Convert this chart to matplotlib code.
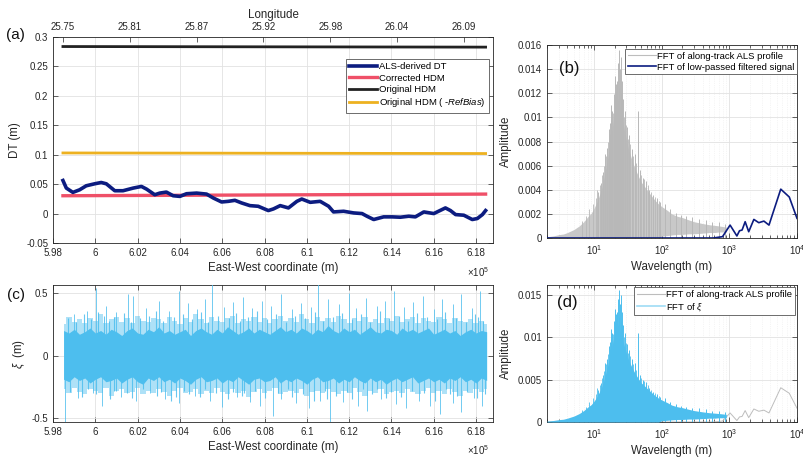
import numpy as np
import matplotlib
matplotlib.use('Agg')
import matplotlib.pyplot as plt
from matplotlib.ticker import FuncFormatter, LogLocator, NullFormatter
from matplotlib.lines import Line2D

plt.rcParams['font.family'] = ['Liberation Sans', 'DejaVu Sans']
plt.rcParams['mathtext.fontset'] = 'custom'
plt.rcParams['mathtext.rm'] = 'Liberation Sans'
plt.rcParams['mathtext.it'] = 'Liberation Sans:italic'
plt.rcParams['mathtext.bf'] = 'Liberation Sans:bold'

# ---------------- data ----------------
# (a) ALS-derived DT along track (East-West coordinate in m)
dt_x = [598470, 598630, 598940, 599260, 599570, 599970, 600280, 600520, 600920, 601310,
        601790, 602180, 602420, 602810, 603050, 603360, 603680, 604000, 604310, 604790,
        605260, 605580, 605970, 606290, 606600, 606920, 607310, 607700, 608180, 608420,
        608740, 609130, 609530, 609760, 610160, 610630, 611030, 611260, 611740, 612210,
        612610, 612840, 613160, 613630, 614030, 614420, 614820, 615130, 615530, 616000,
        616550, 616790, 617030, 617420, 617820, 618060, 618300, 618450]
dt_y = [0.0562, 0.0433, 0.0360, 0.0404, 0.0472, 0.0506, 0.0528, 0.0506, 0.0388, 0.0388,
        0.0433, 0.0461, 0.0416, 0.0320, 0.0348, 0.0365, 0.0303, 0.0292, 0.0337, 0.0348,
        0.0331, 0.0264, 0.0197, 0.0208, 0.0225, 0.0180, 0.0135, 0.0124, 0.0051, 0.0079,
        0.0135, 0.0096, 0.0208, 0.0247, 0.0191, 0.0208, 0.0124, 0.0028, 0.0039, 0.0011,
        0.0000, -0.0045, -0.0101, -0.0056, -0.0056, -0.0062, -0.0045, -0.0056, 0.0028, 0.0000,
        0.0096, 0.0051, -0.0017, -0.0028, -0.0101, -0.0084, -0.0017, 0.0051]
hdm_x = [598470, 618450]
hdm_corrected = [0.0303, 0.0331]
hdm_original = [0.2838, 0.2828]
hdm_refbias = [0.1030, 0.1020]

lon_pos = [598470, 601630, 604790, 607950, 611110, 614270, 617430]
lon_labels = ['25.75', '25.81', '25.87', '25.92', '25.98', '26.04', '26.09']

# (c) xi residual: envelope of the dense band and isolated spikes
xi_x = [598500, 598750, 599000, 599250, 599500, 599750, 600000, 600250, 600500, 600750,
        601000, 601250, 601500, 601750, 602000, 602250, 602500, 602750, 603000, 603250,
        603500, 603750, 604000, 604250, 604500, 604750, 605000, 605250, 605500, 605750,
        606000, 606250, 606500, 606750, 607000, 607250, 607500, 607750, 608000, 608250,
        608500, 608750, 609000, 609250, 609500, 609750, 610000, 610250, 610500, 610750,
        611000, 611250, 611500, 611750, 612000, 612250, 612500, 612750, 613000, 613250,
        613500, 613750, 614000, 614250, 614500, 614750, 615000, 615250, 615500, 615750,
        616000, 616250, 616500, 616750, 617000, 617250, 617500, 617750, 618000, 618250,
        618500]
xi_up_core = [0.20, 0.18, 0.21, 0.17, 0.19, 0.22, 0.18, 0.20, 0.17, 0.21,
              0.19, 0.16, 0.20, 0.22, 0.18, 0.17, 0.21, 0.19, 0.23, 0.18,
              0.20, 0.17, 0.19, 0.21, 0.16, 0.20, 0.22, 0.19, 0.17, 0.21,
              0.18, 0.23, 0.20, 0.17, 0.19, 0.22, 0.18, 0.21, 0.19, 0.17,
              0.20, 0.23, 0.19, 0.21, 0.18, 0.22, 0.20, 0.17, 0.21, 0.19,
              0.24, 0.20, 0.18, 0.22, 0.19, 0.21, 0.17, 0.20, 0.23, 0.19,
              0.18, 0.21, 0.20, 0.17, 0.22, 0.19, 0.21, 0.18, 0.20, 0.22,
              0.17, 0.19, 0.21, 0.18, 0.20, 0.16, 0.19, 0.21, 0.18, 0.20, 0.19]
xi_lo_core = [-0.19, -0.21, -0.17, -0.20, -0.18, -0.22, -0.19, -0.17, -0.21, -0.20,
              -0.18, -0.22, -0.19, -0.17, -0.21, -0.23, -0.18, -0.20, -0.17, -0.21,
              -0.19, -0.22, -0.18, -0.20, -0.23, -0.19, -0.17, -0.21, -0.20, -0.18,
              -0.22, -0.19, -0.21, -0.17, -0.20, -0.23, -0.19, -0.18, -0.21, -0.20,
              -0.17, -0.22, -0.19, -0.21, -0.18, -0.20, -0.23, -0.19, -0.17, -0.21,
              -0.20, -0.18, -0.22, -0.19, -0.21, -0.17, -0.20, -0.22, -0.18, -0.21,
              -0.19, -0.23, -0.20, -0.18, -0.21, -0.19, -0.17, -0.22, -0.20, -0.18,
              -0.21, -0.19, -0.22, -0.18, -0.20, -0.17, -0.21, -0.19, -0.22, -0.18, -0.20]
xi_up_fringe = [0.25, 0.31, 0.27, 0.29, 0.26, 0.30, 0.28, 0.33, 0.26, 0.29,
                0.31, 0.27, 0.30, 0.26, 0.32, 0.28, 0.27, 0.30, 0.29, 0.26,
                0.31, 0.28, 0.25, 0.30, 0.27, 0.33, 0.29, 0.26, 0.31, 0.28,
                0.27, 0.30, 0.32, 0.26, 0.29, 0.28, 0.31, 0.27, 0.30, 0.26,
                0.29, 0.32, 0.28, 0.30, 0.27, 0.33, 0.29, 0.26, 0.31, 0.28,
                0.30, 0.27, 0.32, 0.29, 0.26, 0.30, 0.28, 0.31, 0.27, 0.29,
                0.26, 0.30, 0.28, 0.32, 0.27, 0.29, 0.31, 0.26, 0.30, 0.28,
                0.27, 0.31, 0.29, 0.26, 0.30, 0.28, 0.27, 0.29, 0.26, 0.28, 0.25]
xi_lo_fringe = [-0.27, -0.30, -0.26, -0.29, -0.31, -0.27, -0.28, -0.30, -0.26, -0.32,
                -0.28, -0.27, -0.30, -0.29, -0.26, -0.31, -0.28, -0.30, -0.27, -0.29,
                -0.32, -0.28, -0.26, -0.30, -0.29, -0.27, -0.31, -0.28, -0.30, -0.26,
                -0.29, -0.31, -0.27, -0.30, -0.28, -0.33, -0.29, -0.27, -0.30, -0.28,
                -0.26, -0.31, -0.29, -0.28, -0.30, -0.27, -0.32, -0.29, -0.28, -0.30,
                -0.27, -0.29, -0.31, -0.28, -0.30, -0.26, -0.29, -0.32, -0.28, -0.30,
                -0.27, -0.31, -0.29, -0.28, -0.30, -0.27, -0.29, -0.31, -0.28, -0.26,
                -0.30, -0.28, -0.31, -0.27, -0.29, -0.32, -0.28, -0.30, -0.27, -0.29, -0.27]
xi_spk_up_x = [599000, 599600, 600050, 600500, 601000, 601550, 601800, 602400, 603000, 603500,
               603950, 604400, 604800, 605200, 605500, 606100, 606500, 607000, 607400, 607900,
               608300, 608800, 609300, 609700, 610200, 610550, 611000, 611500, 612000, 612300,
               612800, 613300, 613700, 614100, 614600, 615000, 615500, 616000, 616400, 616900,
               617300, 617800, 618200]
xi_spk_up_y = [0.33, 0.36, 0.54, 0.40, 0.35, 0.49, 0.48, 0.38, 0.44, 0.36,
               0.52, 0.42, 0.37, 0.45, 0.58, 0.39, 0.43, 0.47, 0.38, 0.44,
               0.40, 0.49, 0.37, 0.42, 0.39, 0.57, 0.45, 0.41, 0.50, 0.38,
               0.46, 0.40, 0.44, 0.52, 0.39, 0.43, 0.48, 0.37, 0.45, 0.41,
               0.49, 0.38, 0.52]
xi_spk_dn_x = [598550, 599200, 599900, 600300, 601200, 601900, 602600, 603300, 603950, 604700,
               605400, 606000, 606700, 607300, 607800, 608400, 608800, 609500, 610100, 610600,
               611100, 611700, 612400, 612850, 613500, 614200, 614700, 615300, 615800, 616300,
               616900, 617300, 617900, 618300]
xi_spk_dn_y = [-0.53, -0.34, -0.30, -0.40, -0.33, -0.36, -0.30, -0.35, -0.38, -0.32,
               -0.36, -0.41, -0.33, -0.37, -0.40, -0.48, -0.35, -0.38, -0.42, -0.36,
               -0.53, -0.37, -0.40, -0.44, -0.35, -0.39, -0.42, -0.36, -0.40, -0.47,
               -0.38, -0.45, -0.34, -0.40]
xi_mid_up_x = [598700, 599100, 599450, 599800, 600150, 600650, 600900, 601350, 601700, 602100,
               602550, 602850, 603200, 603700, 604150, 604550, 605000, 605350, 605800, 606300,
               606650, 606850, 607200, 607650, 608100, 608550, 609000, 609450, 609900, 610400,
               610750, 611250, 611650, 612150, 612550, 613000, 613450, 613900, 614350, 614800,
               615200, 615700, 616150, 616550, 617050, 617500, 617950, 618100, 618350, 600400]
xi_mid_up_y = [0.30, 0.27, 0.33, 0.29, 0.35, 0.28, 0.31, 0.34, 0.27, 0.30,
               0.32, 0.36, 0.28, 0.31, 0.33, 0.29, 0.35, 0.27, 0.32, 0.30,
               0.34, 0.28, 0.31, 0.36, 0.29, 0.33, 0.27, 0.32, 0.30, 0.35,
               0.28, 0.31, 0.34, 0.29, 0.33, 0.27, 0.36, 0.30, 0.32, 0.28,
               0.34, 0.31, 0.29, 0.35, 0.30, 0.27, 0.33, 0.31, 0.28, 0.32]
xi_mid_dn_x = [598800, 599350, 599650, 600050, 600700, 601000, 601500, 601750, 602250, 602900,
               603100, 603600, 604200, 604450, 604950, 605200, 605700, 606250, 606500, 606950,
               607550, 608000, 608650, 609100, 609300, 609800, 610350, 610850, 611400, 611900,
               612150, 612650, 613100, 613750, 614000, 614450, 614950, 615550, 616050, 616600,
               617100, 617550, 618050, 618400, 600900, 603800, 607050, 610950, 613300, 616750]
xi_mid_dn_y = [-0.29, -0.33, -0.27, -0.31, -0.35, -0.28, -0.30, -0.34, -0.27, -0.32,
               -0.29, -0.36, -0.28, -0.31, -0.33, -0.27, -0.30, -0.35, -0.29, -0.32,
               -0.28, -0.34, -0.30, -0.27, -0.33, -0.31, -0.36, -0.28, -0.32, -0.29,
               -0.35, -0.27, -0.31, -0.34, -0.29, -0.33, -0.28, -0.30, -0.36, -0.27,
               -0.32, -0.29, -0.34, -0.31, -0.28, -0.33, -0.30, -0.35, -0.27, -0.31]

# (b)/(d) FFT amplitude spectra (wavelength in m, amplitude in m)
spec_wl = [2, 2.5, 3, 3.5, 4, 5, 6, 7, 8, 9,
           10, 11, 12, 13, 14, 15, 16, 17, 18, 19,
           20, 21, 22, 23, 24, 25, 26, 28, 30, 32,
           35, 38, 42, 46, 50, 55, 60, 70, 80, 90,
           100, 120, 140, 170, 200, 250, 300, 400, 500, 600,
           700, 800, 900]
spec_upper = [0.00010, 0.00018, 0.00028, 0.00033, 0.00045, 0.00070, 0.00100, 0.00135, 0.00175, 0.00205,
              0.00250, 0.00300, 0.00360, 0.00420, 0.00500, 0.00590, 0.00680, 0.00770, 0.00870, 0.00960,
              0.01040, 0.01110, 0.01160, 0.01130, 0.01080, 0.01030, 0.00980, 0.00890, 0.00810, 0.00740,
              0.00670, 0.00610, 0.00550, 0.00500, 0.00460, 0.00430, 0.00400, 0.00350, 0.00310, 0.00280,
              0.00260, 0.00230, 0.00200, 0.00180, 0.00170, 0.00150, 0.00135, 0.00120, 0.00110, 0.00105,
              0.00100, 0.00095, 0.00090]
spec_lower = [0, 0, 0, 0, 0, 0, 0, 0, 0, 0,
              0, 0, 0, 0, 0, 0, 0, 0, 0, 0,
              0, 0, 0, 0, 0, 0, 0, 0, 0, 0,
              0, 0, 0, 0, 0, 0, 0, 0, 0, 0,
              0.00015, 0.00020, 0.00025, 0.00030, 0.00030, 0.00035, 0.00035, 0.00040, 0.00045, 0.00045,
              0.00050, 0.00050, 0.00050]
spk_wl = [11.5, 12.5, 13.5, 14.5, 15.5, 16.3, 17.2, 17.8, 18.6, 19.5,
          20.2, 20.8, 21.5, 22.3, 23.0, 24.0, 25.0, 26.0, 27.0, 28.5,
          31, 33, 36, 40, 45, 48, 53, 58, 65, 75,
          85, 95, 110, 130, 160, 190, 230, 280, 350, 450,
          550, 700, 850]
spk_amp = [0.0038, 0.0046, 0.0055, 0.0070, 0.0075, 0.0090, 0.0095, 0.0110, 0.0105, 0.0119,
           0.0134, 0.0128, 0.0130, 0.0145, 0.0156, 0.0140, 0.0150, 0.0130, 0.0115, 0.0105,
           0.0092, 0.0085, 0.0074, 0.0070, 0.0105, 0.0056, 0.0050, 0.0047, 0.0040, 0.0036,
           0.0033, 0.0030, 0.0028, 0.0024, 0.0021, 0.0019, 0.0018, 0.0017, 0.0016, 0.0015,
           0.00135, 0.0013, 0.0012]
spk2_wl = [6.5, 7.5, 8.5, 9.5, 10.5, 11.0, 12.0, 13.0, 14.0, 15.0,
           16.0, 17.0, 18.0, 19.0, 20.0, 21.0, 22.0, 23.5, 24.5, 25.5,
           27.5, 29.5, 32, 34, 38, 42, 50, 55, 62, 70,
           80, 90]
spk2_amp = [0.0014, 0.0018, 0.0024, 0.0028, 0.0033, 0.0040, 0.0044, 0.0052, 0.0060, 0.0068,
            0.0080, 0.0086, 0.0098, 0.0104, 0.0118, 0.0122, 0.0128, 0.0124, 0.0120, 0.0116,
            0.0100, 0.0094, 0.0082, 0.0078, 0.0068, 0.0062, 0.0052, 0.0049, 0.0044, 0.0038,
            0.0034, 0.0031]
lp_wl = [2, 577, 790, 1023, 1290, 1410, 1540, 1710, 1930, 2300, 2720, 3240, 3850, 5750, 7680, 10000]
lp_amp = [0, 0, 0.00011, 0.00107, 0.00017, 0.00060, 0.00066, 0.00135, 0.00052, 0.00154,
          0.00127, 0.00140, 0.00107, 0.00405, 0.00340, 0.00163]

# ---------------- styles ----------------
C_NAVY = '#0c1c80'
C_RED = '#ef5068'
C_BLACK = '#222222'
C_ORANGE = '#edb120'
C_CYAN = '#4dbeee'
C_GRAY = '#c8c8c8'
C_GRAY_SPK = '#b8b8b8'
C_AX = '#262626'
GRID = '#e2e2e2'

W, H = 804, 458
fig = plt.figure(figsize=(W / 100, H / 100), dpi=100)


def ax_at(l, t, r, b):
    return fig.add_axes([l / W, 1 - b / H, (r - l) / W, (b - t) / H])


def style(ax):
    for s in ax.spines.values():
        s.set_color(C_AX)
        s.set_linewidth(0.6)
    ax.tick_params(which='both', direction='in', top=True, right=True,
                   colors=C_AX, labelsize=7, width=0.5)
    ax.tick_params(which='major', length=3.5)
    ax.tick_params(which='minor', length=2)
    ax.set_axisbelow(True)


gfmt = FuncFormatter(lambda v, p: f'{v:g}')
xfmt = FuncFormatter(lambda v, p: f'{v / 1e5:g}')
xticks_ew = [598000 + 2000 * k for k in range(11)]

# ---------------- panel (a) ----------------
axA = ax_at(53, 37, 493, 243)
style(axA)
axA.plot(dt_x, dt_y, color=C_NAVY, lw=2.6, solid_joinstyle='round', zorder=5, label='ALS-derived DT')
axA.plot(hdm_x, hdm_corrected, color=C_RED, lw=2.4, zorder=4, label='Corrected HDM')
axA.plot(hdm_x, hdm_original, color=C_BLACK, lw=2.0, zorder=4, label='Original HDM')
axA.plot(hdm_x, hdm_refbias, color=C_ORANGE, lw=2.0, zorder=4,
         label='Original HDM ( -$\\it{RefBias}$)')
axA.set_xlim(598000, 618800)
axA.set_ylim(-0.05, 0.3)
axA.set_xticks(xticks_ew)
axA.set_yticks([-0.05, 0, 0.05, 0.1, 0.15, 0.2, 0.25, 0.3])
axA.xaxis.set_major_formatter(xfmt)
axA.yaxis.set_major_formatter(gfmt)
axA.grid(True, color=GRID, lw=0.6)
axA.set_xlabel('East-West coordinate (m)', fontsize=8.3, color=C_AX, labelpad=3)
axA.set_ylabel('DT (m)', fontsize=8.3, color=C_AX, labelpad=4)
legA = axA.legend(loc='upper right', bbox_to_anchor=(0.991, 0.893), fontsize=6.8,
                  handlelength=3.0, handletextpad=0.2, borderpad=0.35, labelspacing=0.25,
                  fancybox=False, edgecolor='#555555', framealpha=1, borderaxespad=0)
legA.get_frame().set_linewidth(0.6)

axT = axA.twiny()
axT.set_xlim(axA.get_xlim())
axT.set_xticks(lon_pos)
axT.set_xticklabels(lon_labels)
axT.tick_params(direction='in', length=3.5, width=0.5, colors=C_AX, labelsize=7, pad=3.5)
for s in axT.spines.values():
    s.set_visible(False)
axT.set_xlabel('Longitude', fontsize=8.3, color=C_AX, labelpad=3)

fig.text(478 / W, 1 - 272 / H, '$\\times$10$^5$', fontsize=7, color=C_AX, ha='center', va='center')
fig.text(15 / W, 1 - 35 / H, '(a)', fontsize=11, color='#111111', ha='center', va='center')

# ---------------- panel (c) ----------------
axC = ax_at(53, 285, 493, 422)
style(axC)
axC.fill_between(xi_x, xi_lo_fringe, xi_up_fringe, color=C_CYAN, alpha=0.45, lw=0, step='mid', zorder=2)
axC.vlines(xi_mid_up_x, 0, xi_mid_up_y, color=C_CYAN, lw=0.8, alpha=0.85, zorder=3)
axC.vlines(xi_mid_dn_x, xi_mid_dn_y, 0, color=C_CYAN, lw=0.8, alpha=0.85, zorder=3)
axC.fill_between(xi_x, xi_lo_core, xi_up_core, color=C_CYAN, lw=0, zorder=3)
axC.vlines(xi_spk_up_x, 0, xi_spk_up_y, color=C_CYAN, lw=0.7, alpha=0.8, zorder=3)
axC.vlines(xi_spk_dn_x, xi_spk_dn_y, 0, color=C_CYAN, lw=0.7, alpha=0.8, zorder=3)
axC.set_xlim(598000, 618800)
axC.set_ylim(-0.532, 0.564)
axC.set_xticks(xticks_ew)
axC.set_yticks([-0.5, 0, 0.5])
axC.xaxis.set_major_formatter(xfmt)
axC.yaxis.set_major_formatter(gfmt)
axC.grid(True, color=GRID, lw=0.6)
axC.set_xlabel('East-West coordinate (m)', fontsize=8.3, color=C_AX, labelpad=3)
axC.set_ylabel('$\\xi$  (m)', fontsize=8.3, color=C_AX, labelpad=3)
fig.text(478 / W, 1 - 450 / H, '$\\times$10$^5$', fontsize=7, color=C_AX, ha='center', va='center')
fig.text(16 / W, 1 - 295 / H, '(c)', fontsize=11, color='#111111', ha='center', va='center')


# ---------------- panels (b), (d) ----------------
def spec_axes(ax):
    style(ax)
    ax.set_xscale('log')
    ax.set_xlim(2, 1e4)
    ax.xaxis.set_major_locator(LogLocator(base=10, numticks=10))
    ax.xaxis.set_minor_locator(LogLocator(base=10, subs=np.arange(2, 10), numticks=20))
    ax.xaxis.set_minor_formatter(NullFormatter())
    ax.yaxis.set_major_formatter(gfmt)
    ax.grid(True, which='major', color=GRID, lw=0.6)
    ax.grid(True, which='minor', axis='x', color='#ececec', lw=0.5, ls=':')
    ax.set_xlabel('Wavelength (m)', fontsize=8.3, color=C_AX, labelpad=3)
    ax.set_ylabel('Amplitude', fontsize=8.3, color=C_AX, labelpad=4)


axB = ax_at(547, 45, 797, 238)
spec_axes(axB)
axB.fill_between(spec_wl, spec_lower, spec_upper, color=C_GRAY, lw=0, zorder=2)
axB.vlines(spk2_wl, 0, spk2_amp, color=C_GRAY_SPK, lw=0.6, zorder=2)
axB.vlines(spk_wl, 0, spk_amp, color=C_GRAY_SPK, lw=0.7, zorder=2)
axB.plot(lp_wl, lp_amp, color=C_NAVY, lw=1.2, zorder=4)
axB.set_ylim(0, 0.016)
axB.set_yticks([0, 0.002, 0.004, 0.006, 0.008, 0.01, 0.012, 0.014, 0.016])
hB = [Line2D([], [], color='#bdbdbd', lw=0.8), Line2D([], [], color=C_NAVY, lw=1.2)]
legB = axB.legend(hB, ['FFT of along-track ALS profile', 'FFT of low-passed filtered signal'],
                  loc='upper right', bbox_to_anchor=(1.0, 0.98), fontsize=6.8,
                  handlelength=3.0, handletextpad=0.1, borderpad=0.3, labelspacing=0.2,
                  fancybox=False, edgecolor='#555555', framealpha=1, borderaxespad=0)
legB.get_frame().set_linewidth(0.6)
fig.text(569 / W, 1 - 68 / H, '(b)', fontsize=12, color='#111111', ha='center', va='center')

axD = ax_at(547, 285, 797, 422)
spec_axes(axD)
axD.plot(lp_wl, lp_amp, color='#bdbdbd', lw=0.7, zorder=2)
axD.fill_between(spec_wl, spec_lower, spec_upper, color=C_CYAN, lw=0, zorder=3)
axD.vlines(spk2_wl, 0, spk2_amp, color=C_CYAN, lw=0.6, zorder=3)
axD.vlines(spk_wl, 0, spk_amp, color=C_CYAN, lw=0.7, zorder=3)
axD.set_ylim(0, 0.0162)
axD.set_yticks([0, 0.005, 0.01, 0.015])
hD = [Line2D([], [], color='#bdbdbd', lw=0.8), Line2D([], [], color='#9edcf5', lw=1.2)]
legD = axD.legend(hD, ['FFT of along-track ALS profile', 'FFT of $\\xi$'],
                  loc='upper right', bbox_to_anchor=(0.992, 0.985), fontsize=6.8,
                  handlelength=3.0, handletextpad=0.1, borderpad=0.3, labelspacing=0.2,
                  fancybox=False, edgecolor='#555555', framealpha=1, borderaxespad=0)
legD.get_frame().set_linewidth(0.6)
fig.text(567 / W, 1 - 302 / H, '(d)', fontsize=12, color='#111111', ha='center', va='center')

fig.savefig('out.png', dpi=100)
